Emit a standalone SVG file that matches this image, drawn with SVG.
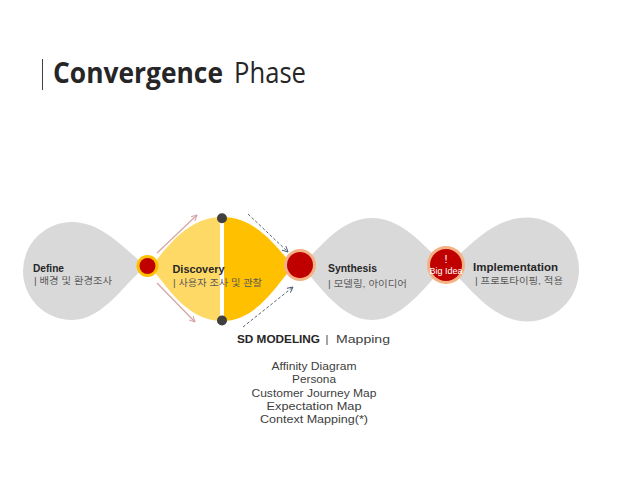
<svg xmlns="http://www.w3.org/2000/svg" width="638" height="479" viewBox="0 0 638 479">
  <defs>
    <style>
      .head { font-family: "Liberation Sans", sans-serif; font-weight: bold; font-size: 10px; fill: #262626; }
      .sub { font-family: "Liberation Sans", "Noto Sans CJK KR", sans-serif; font-size: 9.5px; fill: #595959; }
      .gray { fill: #D9D9D9; }
      .list { font-family: "Liberation Sans", sans-serif; font-size: 11px; fill: #404040; text-anchor: middle; }
      .pink { stroke: #D5A3A3; stroke-width: 1.2; fill: none; marker-end: url(#ahPink); }
      .navy { stroke: #44546A; stroke-width: 0.9; fill: none; stroke-dasharray: 3 2; marker-end: url(#ahNavy); }
    </style>
    <marker id="ahPink" viewBox="0 0 10 10" refX="9" refY="5" markerWidth="7" markerHeight="7" markerUnits="userSpaceOnUse" orient="auto">
      <path d="M1,1 L9,5 L1,9" fill="none" stroke="#D5A3A3" stroke-width="1.5"/>
    </marker>
    <marker id="ahNavy" viewBox="0 0 10 10" refX="9" refY="5" markerWidth="7" markerHeight="7" markerUnits="userSpaceOnUse" orient="auto">
      <path d="M1,1 L9,5 L1,9" fill="none" stroke="#44546A" stroke-width="1.3"/>
    </marker>
  </defs>
  <rect width="638" height="479" fill="#FFFFFF"/>

  <g id="title">
    <line x1="42.5" y1="59" x2="42.5" y2="90" stroke="#404040" stroke-width="1"/>
    <text y="83" font-family="Open Sans, sans-serif" font-size="29" fill="#262626"><tspan x="53" font-weight="bold" textLength="170" lengthAdjust="spacingAndGlyphs">Convergence</tspan><tspan x="234" textLength="72" lengthAdjust="spacingAndGlyphs">Phase</tspan></text>
  </g>

  <g id="define">
    <path class="gray" d="M147,266 C128,254 105,222 72,222 A49,49 0 0 0 72,320 C105,320 128,278 147,266 Z"/>
    <text class="head" x="33" y="272" textLength="31" lengthAdjust="spacingAndGlyphs">Define</text>
    <text class="sub" x="34" y="284" textLength="78" lengthAdjust="spacingAndGlyphs">| 배경 및 환경조사</text>
  </g>

  <g id="implementation">
    <path class="gray" d="M446,266 C464,253 490,217.5 527,217.5 A52,52 0 0 1 527,321.5 C490,321.5 464,279 446,266 Z"/>
    <text class="head" x="473" y="270.5" textLength="85" lengthAdjust="spacingAndGlyphs">Implementation</text>
    <text class="sub" x="475" y="283.5" textLength="88" lengthAdjust="spacingAndGlyphs">| 프로토타이핑, 적용</text>
  </g>

  <g id="synthesis">
    <path class="gray" d="M300,266 C315,255 338,218 372,218 C406,218 431,255 446,266 C431,277 406,320 372,320 C338,320 315,277 300,266 Z"/>
    <text class="head" x="328" y="272" textLength="49" lengthAdjust="spacingAndGlyphs">Synthesis</text>
    <text class="sub" x="328" y="286.5" textLength="79" lengthAdjust="spacingAndGlyphs">| 모델링, 아이디어</text>
  </g>

  <g id="discovery">
    <path fill="#FFD966" d="M150,267 C165,252 185,217 222,217 L222,321 C185,321 165,282 150,267 Z"/>
    <path fill="#FFC000" d="M222,217 C259,217 279,252 294,266 C279,280 259,321 222,321 Z"/>
    <line x1="222" y1="218" x2="222" y2="320" stroke="#FFFFFF" stroke-width="4"/>
    <circle cx="222" cy="218.3" r="5" fill="#404040"/>
    <circle cx="222" cy="320.5" r="5" fill="#404040"/>
    <text class="head" x="172.5" y="273" textLength="52" lengthAdjust="spacingAndGlyphs">Discovery</text>
    <text class="sub" x="173" y="286" textLength="89" lengthAdjust="spacingAndGlyphs">| 사용자 조사 및 관찰</text>
  </g>

  <g id="junction-define-discovery">
    <circle cx="147.5" cy="266" r="11" fill="#FFC000"/>
    <circle cx="147.5" cy="266" r="8" fill="#C00000"/>
  </g>

  <g id="junction-discovery-synthesis">
    <circle cx="300" cy="265" r="16" fill="#F4B183"/>
    <circle cx="300" cy="265" r="13" fill="#C00000"/>
  </g>

  <g id="big-idea">
    <circle cx="446" cy="265" r="19" fill="#F4B183"/>
    <circle cx="446" cy="265" r="16" fill="#C00000"/>
    <text x="446" y="263" font-family="Liberation Sans, sans-serif" font-size="11" fill="#FFFFFF" text-anchor="middle">!</text>
    <text x="446" y="274" font-family="Liberation Sans, sans-serif" font-size="9" fill="#FFFFFF" text-anchor="middle" textLength="33" lengthAdjust="spacingAndGlyphs">Big Idea</text>
  </g>

  <g id="connectors">
    <line class="pink" x1="157" y1="253" x2="197" y2="215"/>
    <line class="pink" x1="157" y1="283" x2="195" y2="322"/>
    <line class="navy" x1="248" y1="214" x2="288" y2="252"/>
    <line class="navy" x1="243" y1="327" x2="293" y2="287"/>
  </g>

  <g id="sd-modeling">
    <text x="237" y="343" font-family="Liberation Sans, sans-serif" font-weight="bold" font-size="11" fill="#262626" textLength="83" lengthAdjust="spacingAndGlyphs">SD MODELING</text>
    <text x="325.5" y="343" font-family="Liberation Sans, sans-serif" font-size="11" fill="#404040">|</text>
    <text x="336" y="343" font-family="Liberation Sans, sans-serif" font-size="11" fill="#404040" textLength="54" lengthAdjust="spacingAndGlyphs">Mapping</text>
    <text class="list" x="314" y="369.5" textLength="85" lengthAdjust="spacingAndGlyphs">Affinity Diagram</text>
    <text class="list" x="314" y="383" textLength="44" lengthAdjust="spacingAndGlyphs">Persona</text>
    <text class="list" x="314" y="396.5" textLength="125" lengthAdjust="spacingAndGlyphs">Customer Journey Map</text>
    <text class="list" x="314" y="410" textLength="95" lengthAdjust="spacingAndGlyphs">Expectation Map</text>
    <text class="list" x="314" y="423" textLength="108" lengthAdjust="spacingAndGlyphs">Context Mapping(*)</text>
  </g>
</svg>
